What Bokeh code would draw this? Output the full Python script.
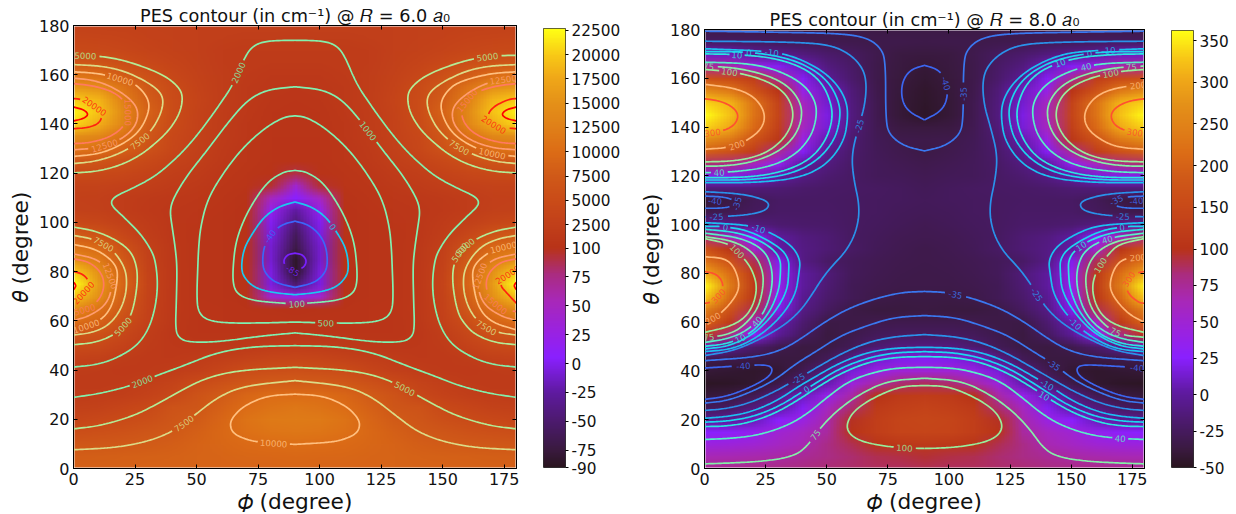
import base64
import math
import struct
import zlib
import numpy as np
from bokeh.core.properties import value
from bokeh.embed import file_html
from bokeh.models import FixedTicker, LinearAxis, LinearColorMapper
from bokeh.plotting import figure
from bokeh.resources import INLINE

# ---- background fields: rows theta 180..0 (step 5), columns phi 0..90 (step 10)
z6 = [
[3000,3000,2900,2800,2700,2600,2500,2500,2500,2500],
[3800,3700,3400,3100,2800,2500,2300,2200,2150,2100],
[4600,4400,4000,3500,3000,2500,2100,1900,1800,1750],
[7000,6500,5400,4300,3400,2700,2100,1750,1600,1550],
[11000,10000,7800,5800,4100,3000,2200,1600,1300,1250],
[15800,14800,11000,7300,4800,3300,2200,1450,1050,950],
[20000,18500,12500,8000,5000,3400,2200,1350,850,750],
[22000,19500,13800,8800,5000,3300,2100,1250,700,550],
[20500,18000,13300,8000,4800,3100,1950,1100,600,450],
[14500,13500,10500,7000,4300,2900,1750,1000,520,400],
[11500,10600,8600,6200,4000,2700,1600,950,500,350],
[7000,6700,5700,4500,3300,2300,1400,850,450,250],
[4700,4500,4000,3300,2400,1750,1150,700,300,90],
[3300,3200,2800,2300,1750,1350,900,500,95,40],
[2700,2500,2050,1650,1300,1000,650,200,50,5],
[3000,2700,2000,1500,1150,850,550,120,20,-25],
[4500,3800,2700,1800,1150,750,450,100,0,-45],
[7800,6500,4100,2200,1150,700,400,100,-5,-60],
[10800,9500,6000,2700,1200,700,400,100,-10,-70],
[14500,12000,7500,3000,1200,680,400,100,-10,-85],
[20000,15000,8500,3300,1250,680,400,110,-5,-85],
[22500,16000,9000,3400,1300,700,420,110,-5,-50],
[19500,15000,8000,3300,1300,720,450,150,40,20],
[14500,11000,7000,3100,1300,750,500,250,200,180],
[10500,8800,5500,2800,1200,700,480,480,480,450],
[6800,6200,4200,2200,1100,700,700,750,850,1000],
[4800,4400,3100,1900,1250,1100,1100,1400,1800,2000],
[3100,2700,1950,1500,1500,1800,2300,3000,3600,3800],
[1950,1800,1500,1600,2000,2500,3700,5100,5500,5800],
[1700,1700,1900,2400,3200,4700,6000,7000,7700,7800],
[1950,2100,2400,3100,4200,6300,7800,9200,10000,10000],
[2700,3000,3700,4500,6300,6900,8600,10000,11000,11500],
[3900,4300,4900,5700,6800,7800,9200,11000,11800,12000],
[5500,5800,6200,6800,7400,8400,9500,10500,11200,11500],
[7000,7200,7500,7800,8200,8800,9300,9800,10100,10300],
[8200,8300,8400,8500,8700,8900,9100,9300,9400,9500],
[8600,8600,8700,8800,8800,8900,9000,9100,9100,9200],
]
z8 = [
[-33,-33,-33,-34,-34,-34,-34,-35,-35,-35],
[-25,-25,-25,-27,-29,-31,-32,-33,-33,-34],
[10,9,-2,-7,-13,-20,-25,-32,-37,-38],
[75,70,40,22,7,-12,-22,-33,-38,-41],
[170,155,125,75,22,-3,-20,-33,-39,-43],
[265,235,170,105,40,10,-15,-32,-40,-45],
[335,315,225,135,60,13,-13,-31,-41,-46],
[360,325,225,140,65,18,-12,-31,-41,-47],
[335,305,210,130,60,15,-14,-30,-37,-38],
[265,235,170,110,42,5,-18,-29,-33,-34],
[195,170,125,75,22,-5,-20,-28,-32,-35],
[85,80,60,35,0,-12,-22,-27,-30,-32],
[20,20,15,2,-10,-18,-23,-27,-28,-30],
[-15,-15,-15,-17,-20,-22,-23,-24,-26,-28],
[-40,-36,-28,-23,-23,-23,-24,-25,-26,-27],
[-32,-30,-26,-22,-22,-22,-24,-25,-27,-28],
[-3,-6,-12,-18,-20,-21,-24,-26,-28,-30],
[85,60,25,0,-12,-17,-24,-27,-30,-31],
[170,110,55,2,-10,-17,-23,-28,-31,-33],
[225,170,90,20,-10,-22,-27,-30,-32,-33],
[305,220,115,35,0,-15,-27,-31,-33,-34],
[355,240,120,35,0,-17,-29,-32,-34,-34],
[325,210,110,30,-5,-20,-29,-34,-36,-36],
[240,170,90,20,-10,-25,-35,-38,-38,-37],
[200,120,55,5,-18,-35,-35,-32,-32,-32],
[105,80,30,-3,-25,-37,-33,-27,-25,-25],
[10,-5,-20,-32,-37,-36,-29,-18,-12,-11],
[-32,-34,-36,-38,-37,-28,-8,12,20,22],
[-41,-43,-45,-42,-30,-12,15,40,50,50],
[-48,-47,-44,-34,-18,5,45,70,85,88],
[-40,-38,-30,-12,8,38,70,100,118,122],
[-27,-24,-12,0,22,60,85,118,130,135],
[-6,-3,7,25,42,68,98,125,140,145],
[25,28,35,50,60,72,102,125,138,140],
[44,46,50,58,66,80,90,104,112,115],
[65,66,68,70,75,80,85,90,92,95],
[77,78,79,80,82,84,86,88,88,90],
]

# ---- contour lines of the R = 6 panel, left half (phi, theta); the right half is the mirror image
c6_5000_up = [(0,167.9),(9.6,167.7),(19.1,166.2),(28.6,163.2),(36.7,159.8),(42.1,155.7),(44.5,151.7),(43.5,144.9),(39.4,138.1),(34,132.7),(27.2,127.3),(19.1,123.2),(9.6,120.7),(0,120.1)]
c6_7500_up = [(0,164.1),(11,163.6),(20.4,161.6),(28.6,157.8),(34.7,153.7),(36.7,149.6),(35.3,143.5),(31.3,136.7),(24.5,131),(16.4,127),(8.3,124.7),(0,123.9)]
c6_10000_up = [(0,161.2),(11,160.5),(23.8,157.1),(28.6,153),(31,148.3),(29.9,142.8),(26.5,136.7),(20.4,132),(11,127.9),(0,126.8)]
c6_12500_up = [(0,158.6),(8.3,157.8),(16.4,154.8),(23.8,149.6),(26.5,144.9),(25.2,138.8),(19.1,133.4),(9.6,130.2),(0,129.5)]
c6_15000_up = [(0,156.4),(8.3,155.5),(16.4,153),(21.1,148.9),(22.7,144.2),(20.4,138.8),(15,134.7),(6.9,132.4),(0,132)]
c6_20000_up = [(0,150.3),(3.5,150),(9.6,146.9),(11.9,143.5),(10.3,140.1),(5.6,138.4),(0,138.1)]
c6_22000_up = [(0,146.9),(4.2,145.8),(6.2,143.9),(4.2,142.2),(0,141.2)]
c6_2000_a = [(90,174),(78.7,173.8),(73.3,172),(69.9,167.9),(65.1,156.4),(59.7,148.3),(52.9,138.8),(46.2,130.6),(39.4,123.9),(32.6,118.4),(24.5,114.1),(17.7,111),(15.3,108.9),(15.7,106.5),(20.4,102.2),(27.2,95.4),(31.3,89.3),(33.3,84.5),(34.3,75),(33.3,65.5),(30.6,56.7),(25.9,49.9),(17.7,44.9),(9.6,42.2),(0,41.2)]
c6_2000_b = [(0,28.9),(11,30.5),(23.2,33.6),(32.6,37.3),(44.8,41.8),(58.4,47.2),(73.3,49.6),(90,49.9)]
c6_5000_low = [(0,16.1),(11,17.4),(24.5,21.4),(34,26.2),(43.5,31.6),(54.3,37),(67.8,40),(90,41.1)]
c6_7500_low = [(0,7.6),(17.7,8.5),(31.3,11.3),(40.8,15.3),(48.9,21.4),(58.4,28.9),(69.2,33.6),(90,35.7)]
c6_10000_low = [(90,30.2),(78.7,29.6),(69.2,25.5),(64.5,20.7),(63.5,17.4),(65.1,14),(70.5,11.7),(76,10.6),(90,9.8)]
c6_1000 = [(90,155.1),(78.7,154),(70.5,149.6),(62.4,140.1),(54.3,129.3),(46.2,119.1),(40.8,110.3),(39.1,104.9),(40.1,98.1),(41.4,89.3),(42.1,81.8),(41.8,68.2),(41.4,56.7),(42.8,53),(46.9,51.3),(58.4,51.4),(76,53.8),(90,55.1)]
c6_500 = [(90,143.3),(85.4,142.8),(77.3,138.1),(67.8,129.3),(59.7,118.4),(54.3,108.9),(51.6,98.1),(50.8,89.3),(50.5,81.8),(50.1,70.9),(50.5,64.1),(53.6,60.5),(61.1,59.1),(76,59.1),(90,59.5)]
c6_100 = [(90,121.1),(85.4,120.6),(78.7,116.4),(72.6,107.6),(68.5,99.5),(65.8,91.3),(64.8,81.8),(64.8,75),(66.5,70.9),(71.9,68.5),(80.1,67.5),(90,66.9)]
c6_0 = [(90,108.3),(83.5,106.5),(77.3,102.2),(72.6,95.4),(69.2,89.3),(68.1,81.8),(69.2,77.7),(73.3,73.6),(80.1,71.6),(90,70.6)]
c6_m40 = [(90,100.5),(84.8,99.2),(80.1,95.4),(77.3,90),(76.7,83.1),(78,79.1),(82.1,75.4),(90,73.6)]
c6_m85 = [(90,87.5),(86.9,86.9),(85.2,84.5),(86.2,81.8),(90,80.1)]
c6_5000_mid = [(0,98.1),(8.3,96.7),(16.4,93.4),(23.2,88.6),(25.9,81.8),(25.9,73.6),(23.8,62.8),(20.5,58),(17,54.6),(9.6,51.3),(0,50.3)]
c6_7500_mid = [(0,94.7),(7.6,93.4),(15,90),(21.1,81.8),(21.8,73.6),(19.8,65.5),(15,58.7),(8.3,55.3),(0,54.2)]
c6_10000_mid = [(0,91),(8,89.5),(14,86),(17.7,81.8),(17.9,76.3),(15.7,65.5),(10.3,59.4),(0,56.3)]
c6_12500_mid = [(0,87.2),(9.6,85.2),(14.4,80.4),(16.1,75),(13.7,66.9),(6.9,62.1),(0,60.1)]
c6_15000_mid = [(0,85.2),(6.9,83.8),(11.7,79.1),(12.6,73.6),(10.3,68.2),(5.6,64.8),(0,63.7)]
c6_20000_mid = [(0,80.1),(3.5,79.1),(5.8,77),(6.6,74.3),(4.2,71.6),(0,67.1)]
c6_22000_mid = [(0,75.7),(1.2,74.3),(0,72.6)]

# ---- contour lines of the R = 8 panel
c8_m35_top = [(0,179.3),(28.4,178.9),(55.7,178.4),(66.6,176.6),(72.1,172.5),(74.1,167),(74.1,143.8),(75.4,137),(81.6,132.2),(90,130.2)]
c8_m40_top = [(90,165.3),(84.3,163.6),(80.9,158.8),(80.5,152),(83,146.6),(90,142.9)]
c8_m25_big = [(0,175.2),(34.3,174.9),(50.6,173.9),(58.8,170.4),(64.3,165),(66.3,158.8),(65.7,149.3),(62.9,139.7),(60.2,128.8),(60.9,119.3),(63.6,107),(62.2,97.4),(58.1,89.3),(51.6,82.4),(47.5,77),(44.1,71.5),(39.3,64.7),(32.5,58.6),(22.9,53.1),(12,48.3),(0,46.3)]
c8_m10_up = [(0,172.1),(27.7,171.1),(38,168.4),(47.5,163.6),(54.3,157.5),(58.1,150.6),(58.7,143.8),(57.1,134.2),(50.2,124.7),(39.3,119.2),(21.6,117.2),(0,117.2)]
c8_0_up = [(0,170.9),(18.2,170.9),(33.9,168.4),(44.8,163.6),(51.6,157.5),(55.4,149.3),(55.4,142.5),(53,134.3),(46.1,126.1),(35.2,120.6),(18.8,118.3),(0,118.3)]
c8_10_up = [(0,170),(13.4,169.8),(28.4,168.4),(40.7,164.3),(48.2,158.2),(52,149.3),(52.3,142.5),(49.5,134.3),(43.4,126.8),(32.5,121.7),(17.5,119.3),(0,119.3)]
c8_40_up = [(0,166.6),(18.8,166.1),(31.1,162.9),(40.7,157.5),(45.5,150.6),(45.9,143.8),(43.4,135.6),(36.6,128.1),(25.7,123.4),(12,121.6),(0,121.3)]
c8_75_up = [(0,165),(13.4,164.3),(27,160.9),(35.2,156.1),(39.7,149.3),(39.7,142.5),(36.6,135.6),(29.8,129.5),(18.8,125.4),(7.9,124),(0,124)]
c8_100_up = [(0,163.6),(12,162.7),(24.3,159.5),(32.5,154.7),(36.3,147.9),(35.9,141.1),(31.8,134.3),(24.3,128.8),(13.4,126.1),(0,125.7)]
c8_200_up = [(0,157.5),(12,156.1),(20.2,152.7),(25,145.9),(23.6,139.1),(16.1,133.6),(9.3,131.5),(0,130.9)]
c8_300_up = [(0,151.6),(6.6,150.7),(12,148),(14.1,144.5),(12,140.4),(6.6,138.1),(0,137.5)]
c8_m25_lobe = [(0,113.5),(14.7,112.7),(24.3,110.4),(26.8,108.1),(24.3,105.3),(14.7,103.6),(0,103.2)]
c8_m35_lobe = [(0,111.7),(9.3,111.3),(14.7,108.5),(8,106.7),(0,106.7)]
c8_m40_lobe = [(0,110),(6.6,109.7),(7.9,108.9),(5.9,108.1),(0,108.1)]
c8_300_mid = [(0,80.8),(5.2,79.7),(7.9,75.6),(6.6,71.5),(2.5,68.1),(0,67.7)]
c8_200_mid = [(0,86.8),(7.9,86.3),(12,83.1),(14.5,75.6),(12.7,70.2),(6.6,63.3),(0,59.9)]
c8_100_mid = [(0,94.3),(10.6,92),(14.7,87.9),(19.5,81.8),(21.8,73.6),(18.8,64),(12,58.6),(0,55.8)]
c8_75_mid = [(0,95.1),(12,93.3),(20.2,88.5),(24,81.1),(24,73.6),(21.6,64.7),(14.7,57.2),(7.9,54.5),(0,53.8)]
c8_40_mid = [(0,96.5),(14.7,94.7),(24.3,89.9),(27.7,82.4),(27.7,73.6),(24.3,63.3),(17.5,56.5),(9.3,53.1),(0,51.7)]
c8_10_mid = [(0,98.1),(14.7,96.7),(25.7,92),(31.1,86.5),(31.1,79.7),(30.4,72.9),(26.3,63.3),(18.8,55.1),(9.3,51.1),(0,50.1)]
c8_0_mid = [(0,99.3),(7.9,99.3),(18.8,97.4),(31.1,90.6),(34.5,85.8),(34.5,81.1),(33.9,72.9),(28.4,63.3),(20.2,55.1),(10,50.1),(0,49)]
c8_m10_mid = [(0,100.8),(17.5,99.9),(25.7,97.4),(35.2,92),(39.3,85.8),(38.6,79.7),(37.3,71.5),(31.8,62.7),(22.9,54.5),(12,49),(0,47.9)]
c8_m35_l1 = [(90,72.6),(80.3,72.2),(69.3,69.5),(58.4,65.4),(48.9,59.9),(39.3,53.1),(31.1,48.3),(20.2,45.6),(0,44.2)]
c8_m35_l2 = [(90,62.7),(77.5,62),(66.6,58.6),(55.7,54.5),(46.1,48.3),(37.3,42.9),(28.4,36),(18.8,31.3),(9.3,27.8),(0,26.8)]
c8_m40_low = [(0,41.2),(16.1,42.2),(25.7,42.6),(28.1,40.8),(26.3,37.4),(18.8,33.3),(9.3,29.6),(0,28.3)]
c8_m25_low = [(90,54.9),(77.5,54.1),(66.6,51.7),(55.7,47),(46.1,41.5),(37.9,36.7),(28.4,31.3),(17.5,26.5),(7.9,24.4),(0,23.8)]
c8_m10_low = [(90,49.7),(77.5,49.4),(66.6,47.6),(55.7,43.5),(46.1,38.1),(37.9,33.3),(29.8,27.8),(18.8,23.1),(9.3,21.3),(0,20.6)]
c8_0_low = [(90,47.9),(77.5,47.5),(66.6,45.3),(55.7,41.2),(46.1,35.4),(40.7,31.9),(31.1,25.8),(20.2,21.3),(9.3,19.4),(0,19)]
c8_10_low = [(90,45.9),(77.5,45.6),(66.6,43.5),(55.7,39),(46.1,33.3),(37.9,27.8),(28.4,22.4),(17.5,18.6),(7.9,17.3),(0,17.2)]
c8_40_low = [(90,41.5),(77.5,41.2),(66.6,38.7),(58.4,35.4),(50.2,29.2),(42,22.4),(33.9,17.6),(23,13.9),(12,12.4),(0,11.9)]
c8_75_low = [(90,37),(74.7,36),(62.5,29.9),(54.3,23.8),(47.5,16.9),(40.7,7.4),(33.9,4.4),(22.9,2.9),(12,2.3),(0,1.9)]
c8_100_low = [(90,34),(80.2,33.7),(69.3,29.2),(61.2,23.8),(58,18.3),(59.1,14.2),(63.9,11.2),(72.1,9.4),(80.3,8.5),(90,8.2)]

curves6 = [(5000,c6_5000_up),(7500,c6_7500_up),(10000,c6_10000_up),(12500,c6_12500_up),(15000,c6_15000_up),(20000,c6_20000_up),(22000,c6_22000_up),
           (2000,c6_2000_a),(2000,c6_2000_b),(5000,c6_5000_low),(7500,c6_7500_low),(10000,c6_10000_low),(1000,c6_1000),(500,c6_500),(100,c6_100),(0,c6_0),(-40,c6_m40),(-85,c6_m85),
           (5000,c6_5000_mid),(7500,c6_7500_mid),(10000,c6_10000_mid),(12500,c6_12500_mid),(15000,c6_15000_mid),(20000,c6_20000_mid),(22000,c6_22000_mid)]
curves8 = [(-35,c8_m35_top),(-40,c8_m40_top),(-25,c8_m25_big),(-10,c8_m10_up),(0,c8_0_up),(10,c8_10_up),(40,c8_40_up),(75,c8_75_up),(100,c8_100_up),(200,c8_200_up),(300,c8_300_up),
           (-25,c8_m25_lobe),(-35,c8_m35_lobe),(-40,c8_m40_lobe),(300,c8_300_mid),(200,c8_200_mid),(100,c8_100_mid),(75,c8_75_mid),(40,c8_40_mid),(10,c8_10_mid),(0,c8_0_mid),(-10,c8_m10_mid),
           (-35,c8_m35_l1),(-35,c8_m35_l2),(-40,c8_m40_low),(-25,c8_m25_low),(-10,c8_m10_low),(0,c8_0_low),(10,c8_10_low),(40,c8_40_low),(75,c8_75_low),(100,c8_100_low)]

# ---- contour labels (level, phi, theta)
labels6 = [(5000,4.5,168.2),(10000,18.8,158.7),(15000,21.5,144.9),(20000,9.2,147.9),(12500,12.6,132),(7500,26.9,133.4),(2000,66.9,161.2),(7500,11.6,90.2),
           (12500,15,78.4),(20000,4.2,70.9),(15000,3.5,63.5),(10000,4.9,58.4),(5000,19.8,58),(2000,27.9,35),(7500,44.8,18.3),(10000,81.6,10.3),(-85,88.8,80.4),(-40,80.7,94),(100,90.9,66.9),
           (500,102.6,59.7),(5000,132.8,29.6),(7500,168,57.6),(15000,170.7,66.2),(12500,164.6,78.4),(5000,158,87.2),(20000,176.8,78.6),
           (5000,168,167.9),(12500,174.8,158.2),(15000,159.9,149.6),(20000,170.7,139.9),(7500,156.5,130.6),(10000,170,128.2),(1000,117,135.4),(0,103,96.5),(5000,159.9,89.3),(10000,174.8,90.6)]
labels8 = [(-10,27.7,171.1),(0,18.2,170.9),(10,13.4,169.8),(75,1.8,165),(100,10.4,162.7),(-25,63.5,140.4),(300,3.1,137),(200,12.7,133.6),(40,5.9,122),(-40,4.5,110),(-35,14.3,108),(-25,4.9,103.6),(0,8.6,99.5),(-10,22.2,98.5),(100,13.4,89.2),
           (300,6.6,70.4),(200,2.7,62),(75,2,54.2),(40,21.6,60.3),(10,15.4,52.1),(-40,16.1,42.2),(-25,37.7,37.7),(0,41.4,32.6),(75,44.8,14.2),(100,81.6,8.7),
           (-10,165.5,172.1),(0,157.3,170.4),(10,145,167),(40,156,165.7),(75,174,164.6),(100,166.2,162.3),(200,177.1,157.5),(300,175.8,137.3),(-40,99,158.2),(-35,106.2,153.4),(-35,167.6,111.7),(-40,177,110),(-25,171,103.6),(0,171,99.5),(40,164.8,93.6),(10,153.9,91.3),
           (100,161.4,83.8),(200,177.1,86.8),(300,173.7,77.7),(75,168.3,56.5),(-10,150.1,57.9),(-25,134.8,70.8),(-35,102.7,71.1),(-35,143,43.1),(-40,177.1,41.2),(-10,140.3,34.3),(10,139,30.2),(40,170.3,12.4)]

ticks6 = [-90,-75,-50,-25,0,25,50,75,100,2500,5000,7500,10000,12500,15000,17500,20000,22500]
ticks8 = [-50,-25,0,25,50,75,100,150,200,250,300,350]
x_ticks = [0,25,50,75,100,125,150,175]
y_ticks = [0,20,40,60,80,100,120,140,160,180]

# ---- styles
colors6 = {-85:"#7a20ff",-40:"#3c66f9",0:"#1cc8f0",100:"#80f0b0",500:"#80f0b0",1000:"#80f0b0",2000:"#84f0ac",5000:"#b4ec96",7500:"#dcdc88",10000:"#ffc080",12500:"#ff9c70",15000:"#ff7a60",20000:"#ff2010",22000:"#ff0000"}
colors8 = {-40:"#3c66f0",-35:"#3a78f0",-25:"#2a92ea",-10:"#1cc0f0",0:"#1cd6ee",10:"#2ce6e0",40:"#58f0c8",75:"#84f0a8",100:"#98ee9c",200:"#ffb878",300:"#ff5030"}
cmap_pos = [0,.04,.1,.17,.25,.31,.38,.44,.5,.555,.61,.666,.72,.777,.83,.89,.94,1]
cmap_hex = ["#2a1520","#3a1a40","#4b1a6b","#5f1aa0","#8a20ff","#9a22e0","#a828b8","#aa2c80","#b83318","#c2401a","#ca4c18","#d05a18","#dc6c16","#e08018","#e49018","#f0a818","#f8c816","#ffff14"]
FONT = "DejaVu Sans"
TOP = 33      # room kept above every frame
BOTTOM = 514  # page y of the canvas bottom

rgb = np.array([[int(h[i:i+2],16) for i in (1,3,5)] for h in cmap_hex],float)
grid = np.linspace(0,1,256)
palette = ["#%02x%02x%02x" % tuple(int(round(np.interp(g,cmap_pos,rgb[:,k]))) for k in range(3)) for g in grid]
mapper = LinearColorMapper(palette=palette, low=0, high=1)

def norm(z, vmin, vmax):
    z = np.asarray(z,float)
    return np.where(z<100, .5*(z-vmin)/(100-vmin), .5+.5*(z-100)/(vmax-100))

def png_url(t):
    """Colour each read value with the colormap; the browser shades between the cells."""
    col = np.stack([np.interp(t,cmap_pos,rgb[:,k]) for k in range(3)],axis=-1).round().astype(np.uint8)
    h,w,_ = col.shape
    raw = b"".join(b"\x00"+col[i].tobytes() for i in range(h))
    def chunk(tag,data):
        return struct.pack(">I",len(data))+tag+data+struct.pack(">I",zlib.crc32(tag+data))
    png = b"\x89PNG\r\n\x1a\n"+chunk(b"IHDR",struct.pack(">IIBBBBB",w,h,8,2,0,0,0))+chunk(b"IDAT",zlib.compress(raw))+chunk(b"IEND",b"")
    return "data:image/png;base64,"+base64.b64encode(png).decode()

def full_lines(pts):
    mir = [(180-a,b) for a,b in reversed(pts)]
    if pts[0][0]==90:
        return [mir+pts]
    if pts[-1][0]==90:
        return [pts+mir]
    return [pts,mir]

def rounded(a, sx, sy):
    """Draw a traced line with rounded corners: each vertex is the control of a quadratic arc between edge midpoints."""
    out = [a[0]]
    mids = (a[:-1]+a[1:])/2
    out_seg = [(a[0],a[0],mids[0])]+[(mids[i-1],a[i],mids[i]) for i in range(1,len(a)-1)]+[(mids[-1],a[-1],a[-1])]
    for p0,c,p1 in out_seg:
        L = math.hypot((c[0]-p0[0])*sx,(c[1]-p0[1])*sy)+math.hypot((p1[0]-c[0])*sx,(p1[1]-c[1])*sy)
        n = max(2,int(L/1.5))
        for j in range(1,n+1):
            s = j/n
            out.append((1-s)**2*p0+2*s*(1-s)*c+s*s*p1)
    return np.array(out)

def panel(zrows, curves, labels, colors, vmin, vmax, title, fw, fh, frame_top, left, right, page_left):
    p = figure(x_range=(0,180), y_range=(0,180), frame_width=fw, frame_height=fh,
               min_border_left=left, min_border_right=right, min_border_top=TOP, min_border_bottom=BOTTOM-frame_top-fh,
               output_backend="svg", toolbar_location=None, title=title,
               styles={"position":"absolute","left":f"{page_left}px","top":f"{frame_top-TOP}px"})
    p.grid.visible = False
    p.title.align = "center"
    p.title.text_font = FONT
    p.title.text_font_size = "17.7px"
    p.title.text_font_style = "normal"
    p.title.text_color = "#111111"
    p.title.standoff = 0
    p.outline_line_color = "black"
    z = np.array([r+r[-2::-1] for r in zrows],float)
    p.image_url(url=[png_url(norm(z,vmin,vmax))], x=-5, y=182.5, w=190, h=185, anchor="top_left")

    sx, sy = fw/180, fh/180
    byl = {}
    for lev,pts in curves:
        for ln in full_lines(pts):
            byl.setdefault(lev,[]).append(rounded(np.array(ln,float),sx,sy))
    keep = {k:[np.ones(len(f),bool) for f in v] for k,v in byl.items()}
    tx,ty,tt,ta,tc = [],[],[],[],[]
    for lev,ph,th in labels:
        best = None
        for li,f in enumerate(byl[lev]):
            d = ((f[:,0]-ph)*sx)**2+((f[:,1]-th)*sy)**2
            i = int(np.argmin(d))
            if best is None or d[i]<best[0]:
                best = (d[i],li,i)
        _,li,i = best
        f = byl[lev][li]
        i0,i1 = max(i-5,0),min(i+5,len(f)-1)
        ang = math.atan2((f[i1,1]-f[i0,1])*sy,(f[i1,0]-f[i0,0])*sx)
        if ang>math.pi/2: ang -= math.pi
        if ang<-math.pi/2: ang += math.pi
        txt = str(lev)
        w = len(txt)*5.4
        for lj,g in enumerate(byl[lev]):
            dx,dy = (g[:,0]-f[i,0])*sx,(g[:,1]-f[i,1])*sy
            u = dx*math.cos(ang)+dy*math.sin(ang)
            v = -dx*math.sin(ang)+dy*math.cos(ang)
            keep[lev][lj] &= ~((np.abs(u)<w/2+2)&(np.abs(v)<5))
        tx.append(f[i,0]);ty.append(f[i,1]);tt.append(txt);ta.append(ang);tc.append(colors[lev])
    for lev,lst in byl.items():
        xs,ys = [],[]
        for f,k in zip(lst,keep[lev]):
            s = 0
            while s<len(f):
                if not k[s]:
                    s += 1
                    continue
                e = s
                while e+1<len(f) and k[e+1]:
                    e += 1
                if e>s:
                    xs.append(f[s:e+1,0].tolist());ys.append(f[s:e+1,1].tolist())
                s = e+1
        p.multi_line(xs,ys,line_color=colors[lev],line_width=1.7)
    p.text(x=tx,y=ty,text=tt,angle=ta,text_color=tc,text_align="center",text_baseline="middle",
           text_font=value(FONT),text_font_size="8.6px",text_alpha=.85)

    for ax,ticks in ((p.xaxis[0],x_ticks),(p.yaxis[0],y_ticks)):
        ax.ticker = FixedTicker(ticks=ticks)
        ax.minor_tick_line_color = None
        ax.major_tick_in = 4
        ax.major_tick_out = 0
        ax.major_label_text_font = FONT
        ax.major_label_text_font_size = "16px"
        ax.major_label_text_color = "#111111"
        ax.major_label_standoff = 4
        ax.axis_label_text_font = FONT
        ax.axis_label_text_font_size = "21.7px"
        ax.axis_label_text_font_style = "normal"
        ax.axis_label_text_color = "#111111"
    p.xaxis[0].axis_label = "\U0001D719 (degree)"
    p.yaxis[0].axis_label = "\U0001D703 (degree)"
    p.xaxis[0].axis_label_standoff = 1
    p.yaxis[0].axis_label_standoff = 3
    for side,ticks in (("above",x_ticks),("right",y_ticks)):
        ax = LinearAxis(ticker=FixedTicker(ticks=ticks), major_tick_in=4, major_tick_out=0,
                        minor_tick_line_color=None, major_label_text_color=None,
                        major_label_text_font_size="1px", major_label_standoff=0)
        p.add_layout(ax,side)
    return p

def colorbar(ticks, vmin, vmax, fh, frame_top, left, right, page_left):
    p = figure(x_range=(0,1), y_range=(0,1), frame_width=22, frame_height=fh,
               min_border_left=left, min_border_right=right, min_border_top=TOP, min_border_bottom=BOTTOM-frame_top-fh,
               x_axis_location=None, y_axis_location="right",
               output_backend="svg", toolbar_location=None,
               styles={"position":"absolute","left":f"{page_left}px","top":f"{frame_top-TOP}px"})
    p.grid.visible = False
    p.outline_line_color = "#333333"
    p.image(image=[np.linspace(0,1,256).reshape(-1,1)], x=0, y=0, dw=1, dh=1, color_mapper=mapper)
    pos = [round(float(norm(t,vmin,vmax)),6) for t in ticks]
    ax = p.yaxis[0]
    ax.ticker = FixedTicker(ticks=pos)
    ax.major_label_overrides = {a:str(b) for a,b in zip(pos,ticks)}
    ax.major_tick_in = 0
    ax.major_tick_out = 3
    ax.minor_tick_line_color = None
    ax.axis_line_color = None
    ax.major_label_text_font = FONT
    ax.major_label_text_font_size = "15.3px"
    ax.major_label_text_color = "#111111"
    ax.major_label_standoff = 3
    return p

fig6 = panel(z6,curves6,labels6,colors6,-90,22685,"PES contour (in cm\u207b\u00b9) @ \U0001D445 = 6.0 \U0001D44E\u2080",443,443,25,73,14,0)
bar6 = colorbar(ticks6,-90,22685,439,28,13,70,530)
fig8 = panel(z8,curves8,labels8,colors8,-50,362,"PES contour (in cm\u207b\u00b9) @ \U0001D445 = 8.0 \U0001D44E\u2080",440,439,29,69,14,635)
bar8 = colorbar(ticks8,-50,362,437,30,13,35,1158)

open("out.html","w").write(file_html([fig6,bar6,fig8,bar8],INLINE))
